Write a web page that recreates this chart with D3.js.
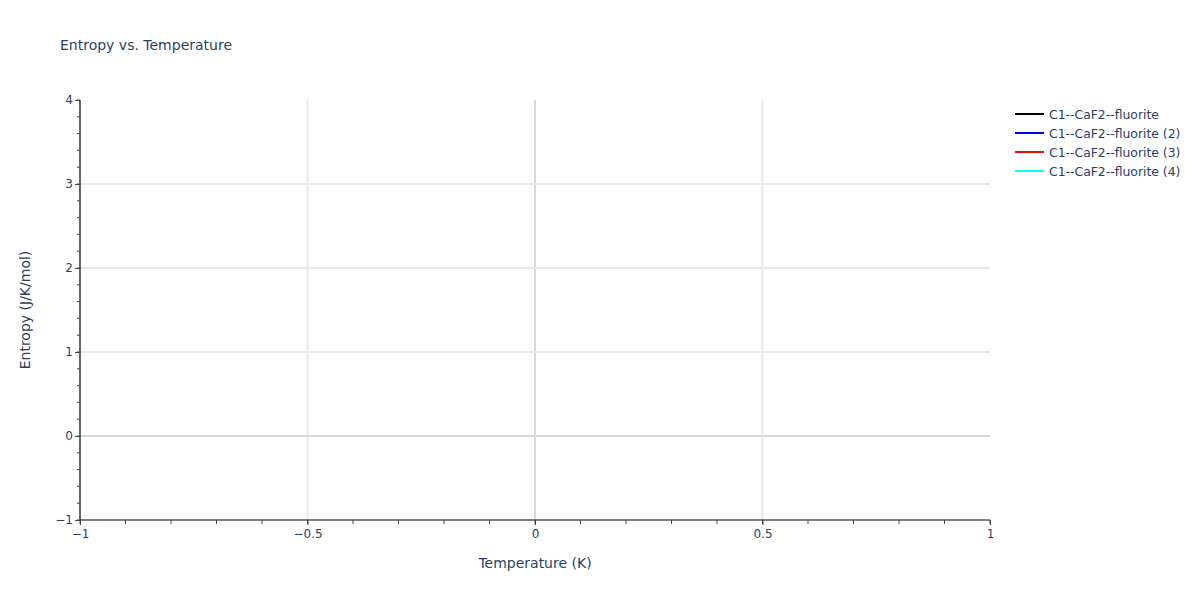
<!DOCTYPE html>
<html>
<head>
<meta charset="utf-8">
<script src="https://cdn.jsdelivr.net/npm/d3@7"></script>
<style>
  body { margin: 0; background: #fff; }
  svg text { font-family: "DejaVu Sans", Verdana, sans-serif; fill: #2a3f5f; }
</style>
</head>
<body>
<svg id="chart"></svg>
<script>
// series in the legend (no points were plotted in the source chart)
const seriesNames = ["C1--CaF2--fluorite", "C1--CaF2--fluorite (2)", "C1--CaF2--fluorite (3)", "C1--CaF2--fluorite (4)"];
const seriesColors = ["black", "blue", "red", "cyan"];
const seriesValues = [[], [], [], []];

const xDomain = [-1, 1];
const yDomain = [-1, 4];
const xTicks = [-1, -0.5, 0, 0.5, 1];
const yTicks = [-1, 0, 1, 2, 3, 4];

let width = 1200;
let height = 600;
let margin = {left: 80, right: 210, top: 100, bottom: 80};

let svg = d3.select("#chart")
    .attr("width", width)
    .attr("height", height);

let x = d3.scaleLinear().domain(xDomain).range([margin.left, width - margin.right]);
let y = d3.scaleLinear().domain(yDomain).range([height - margin.bottom, margin.top]);

// gridlines
let grid = svg.append("g");
grid.selectAll(".vg")
    .data(xTicks.filter(d => d !== xDomain[0] && d !== xDomain[1]))
    .enter().append("line")
    .attr("x1", d => x(d)).attr("x2", d => x(d))
    .attr("y1", y(yDomain[0])).attr("y2", y(yDomain[1]))
    .attr("stroke", d => d === 0 ? "#d8d8d8" : "#e8e8e8")
    .attr("stroke-width", 2);
grid.selectAll(".hg")
    .data(yTicks.filter(d => d !== yDomain[0] && d !== yDomain[1]))
    .enter().append("line")
    .attr("y1", d => y(d)).attr("y2", d => y(d))
    .attr("x1", x(xDomain[0])).attr("x2", x(xDomain[1]))
    .attr("stroke", d => d === 0 ? "#d8d8d8" : "#e8e8e8")
    .attr("stroke-width", 2);

// the (empty) lines
let line = d3.line().x(d => x(d[0])).y(d => y(d[1]));
svg.append("g").selectAll("path")
    .data(seriesValues)
    .enter().append("path")
    .attr("d", d => line(d))
    .attr("fill", "none")
    .attr("stroke", (d, i) => seriesColors[i])
    .attr("stroke-width", 2);

// minor ticks
let xMinor = d3.range(-10, 11).map(d => d / 10);
let yMinor = d3.range(-5, 21).map(d => d / 5);

let xAxis = svg.append("g")
    .attr("transform", `translate(0,${y(yDomain[0])})`)
    .call(d3.axisBottom(x).tickValues(xTicks).tickSize(5).tickPadding(4)
        .tickFormat(d => d3.format("")(d).replace("-", "\u2212")));
xAxis.append("g").selectAll("line")
    .data(xMinor)
    .enter().append("line")
    .attr("x1", d => x(d)).attr("x2", d => x(d))
    .attr("y1", 0).attr("y2", 4)
    .attr("stroke", "#444");

let yAxis = svg.append("g")
    .attr("transform", `translate(${x(xDomain[0])},0)`)
    .call(d3.axisLeft(y).tickValues(yTicks).tickSize(5).tickPadding(2)
        .tickFormat(d => d3.format("")(d).replace("-", "\u2212")));
yAxis.append("g").selectAll("line")
    .data(yMinor)
    .enter().append("line")
    .attr("y1", d => y(d)).attr("y2", d => y(d))
    .attr("x1", 0).attr("x2", -3)
    .attr("stroke", "#444");

[xAxis, yAxis].forEach(a => {
    a.selectAll(".tick line").attr("stroke", "#444");
    a.selectAll(".tick text").style("font-size", "12px").attr("fill", "#2a3f5f");
});
// plotly puts the first ticks on the axis line corner
yAxis.select(".domain").attr("d", `M0,${y(yDomain[1])}V${y(yDomain[0])}`)
    .attr("stroke", "#000").attr("stroke-width", 1.2);
xAxis.select(".domain").attr("d", `M${x(xDomain[0])},0H${x(xDomain[1])}`)
    .attr("stroke", "#000").attr("stroke-width", 1.2);

// titles
svg.append("text")
    .attr("x", 60).attr("y", 50)
    .style("font-size", "14px")
    .text("Entropy vs. Temperature");

svg.append("text")
    .attr("x", x(0)).attr("y", 568)
    .attr("text-anchor", "middle")
    .style("font-size", "14px")
    .text("Temperature (K)");

svg.append("text")
    .attr("transform", `translate(30,${y(1.5)}) rotate(-90)`)
    .attr("text-anchor", "middle")
    .style("font-size", "14px")
    .text("Entropy (J/K/mol)");

// legend
let legend = svg.append("g").attr("transform", "translate(1015,114)");
let items = legend.selectAll("g")
    .data(seriesNames)
    .enter().append("g")
    .attr("transform", (d, i) => `translate(0,${i * 19})`);
items.append("line")
    .attr("x1", 0).attr("x2", 29)
    .attr("stroke", (d, i) => seriesColors[i])
    .attr("stroke-width", 2);
items.append("text")
    .attr("x", 34).attr("y", 4.5)
    .style("font-size", "12.4px")
    .text(d => d);
</script>
</body>
</html>
